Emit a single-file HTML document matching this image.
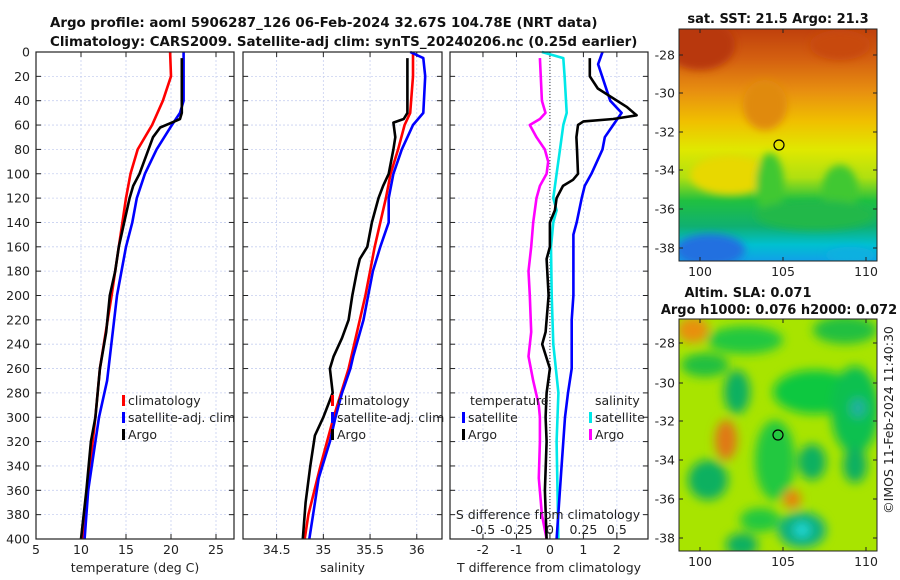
<!DOCTYPE html>
<html><head><meta charset="utf-8">
<style>
html,body{margin:0;padding:0;background:#fff;}
svg{display:block;font-family:"DejaVu Sans","Liberation Sans",sans-serif;}
.t{font-size:12.5px;fill:#222;}
.b{font-weight:bold;font-size:13px;fill:#111;}
.bt{font-weight:bold;font-size:13.4px;fill:#111;}
</style></head><body>
<svg id="fig" width="900" height="580" viewBox="0 0 900 580">
<defs>
<filter id="bl" x="-50%" y="-50%" width="200%" height="200%"><feGaussianBlur stdDeviation="5"/></filter>
<filter id="bl2" x="-50%" y="-50%" width="200%" height="200%"><feGaussianBlur stdDeviation="4"/></filter>
<clipPath id="c1"><rect x="679" y="29" width="198" height="232"/></clipPath>
<clipPath id="c2"><rect x="679" y="319" width="198" height="232"/></clipPath>
<linearGradient id="sst" x1="0" y1="0" x2="0" y2="1">
<stop offset="0" stop-color="#c0400c"/><stop offset="0.13" stop-color="#d46010"/>
<stop offset="0.27" stop-color="#e89010"/><stop offset="0.4" stop-color="#f0c000"/>
<stop offset="0.52" stop-color="#e0e800"/><stop offset="0.64" stop-color="#b0e010"/>
<stop offset="0.74" stop-color="#20c040"/><stop offset="0.85" stop-color="#10b070"/>
<stop offset="0.93" stop-color="#00c0d0"/><stop offset="1" stop-color="#10a0e8"/>
</linearGradient>
</defs>
<text class="bt" x="50" y="27">Argo profile: aoml 5906287_126 06-Feb-2024 32.67S 104.78E (NRT data)</text>
<text class="bt" x="50" y="46">Climatology: CARS2009. Satellite-adj clim: synTS_20240206.nc (0.25d earlier)</text>
<g id="plots"></g>

<g>
<text class="b" x="778" y="23" text-anchor="middle">sat. SST: 21.5 Argo: 21.3</text>
<g clip-path="url(#c1)">
<rect x="679" y="29" width="198" height="232" fill="url(#sst)"/>
<g filter="url(#bl2)">
<ellipse cx="700" cy="45" rx="35" ry="25" fill="#b8380c"/>
<ellipse cx="840" cy="45" rx="30" ry="15" fill="#c84a10"/>
<ellipse cx="765" cy="105" rx="22" ry="25" fill="#e08a10"/>
<ellipse cx="730" cy="175" rx="40" ry="20" fill="#e8d800"/>
<ellipse cx="770" cy="185" rx="14" ry="32" fill="#40c830"/>
<ellipse cx="840" cy="190" rx="18" ry="25" fill="#40c830"/>
<ellipse cx="815" cy="215" rx="60" ry="15" fill="#20b848"/>
<ellipse cx="710" cy="250" rx="35" ry="16" fill="#2070e0"/>
<ellipse cx="850" cy="255" rx="25" ry="8" fill="#10b0e0"/>
</g></g>
<rect x="679" y="29" width="198" height="232" fill="none" stroke="#222"/>
<circle cx="779" cy="145" r="5" fill="none" stroke="#000" stroke-width="1.2"/>
</g>

<g>
<text class="b" x="748" y="297" text-anchor="middle">Altim. SLA: 0.071</text>
<text class="b" x="779" y="314" text-anchor="middle">Argo h1000: 0.076 h2000: 0.072</text>
<g clip-path="url(#c2)">
<rect x="679" y="319" width="198" height="232" fill="#a8e400"/>
<g filter="url(#bl)">
<ellipse cx="693" cy="330" rx="16" ry="13" fill="#e89010"/>
<ellipse cx="745" cy="340" rx="38" ry="14" fill="#20c840"/>
<ellipse cx="845" cy="330" rx="32" ry="14" fill="#20c040"/>
<ellipse cx="705" cy="365" rx="24" ry="12" fill="#20c040"/>
<ellipse cx="737" cy="392" rx="13" ry="22" fill="#10b060"/>
<ellipse cx="815" cy="392" rx="42" ry="22" fill="#10c840"/>
<ellipse cx="855" cy="410" rx="24" ry="44" fill="#10c050"/>
<ellipse cx="858" cy="408" rx="8" ry="10" fill="#20b0a0"/>
<ellipse cx="726" cy="440" rx="11" ry="20" fill="#e07818"/>
<ellipse cx="775" cy="460" rx="20" ry="40" fill="#20c840"/>
<ellipse cx="708" cy="480" rx="20" ry="20" fill="#10b060"/>
<ellipse cx="812" cy="462" rx="14" ry="18" fill="#10b060"/>
<ellipse cx="855" cy="465" rx="12" ry="18" fill="#10b060"/>
<ellipse cx="792" cy="499" rx="9" ry="9" fill="#e88010"/>
<ellipse cx="802" cy="530" rx="24" ry="18" fill="#10b080"/>
<ellipse cx="802" cy="530" rx="8" ry="7" fill="#20d8d8"/>
<ellipse cx="742" cy="545" rx="16" ry="12" fill="#10b060"/>
<ellipse cx="760" cy="520" rx="20" ry="12" fill="#20c840"/>
</g></g>
<rect x="679" y="319" width="198" height="232" fill="none" stroke="#222"/>
<circle cx="778" cy="435" r="5" fill="none" stroke="#000" stroke-width="1.2"/>
</g>
<text class="t" transform="translate(893,420) rotate(-90)" text-anchor="middle">©IMOS 11-Feb-2024 11:40:30</text>
</svg>
<script>
const depthTicks=[0,20,40,60,80,100,120,140,160,180,200,220,240,260,280,300,320,340,360,380,400];
const tempTicks=[5,10,15,20,25];
const salTicks=[34.5,35,35.5,36];
const tdiffTicks=[-2,-1,0,1,2];
const sdiffTicks=[-0.5,-0.25,0,0.25,0.5];
const sdiffLabels=["-0.5","-0.25","0","0.25","0.5"];

const tClimDepth=[0,20,40,60,80,100,120,140,160,180,200,260,300,360,400];
const tClim=[19.9,20.0,19.1,17.9,16.3,15.5,15.0,14.6,14.2,13.8,13.4,12.1,11.6,10.7,10.2];
const tSatDepth=[0,40,50,60,80,100,120,140,160,180,200,270,300,320,360,400];
const tSat=[21.4,21.4,21.0,20.1,18.4,17.1,16.2,15.7,15.0,14.5,14.0,12.9,12.0,11.6,10.8,10.4];
const tArgoDepth=[5,50,55,58,62,70,80,100,110,120,140,160,180,200,230,260,300,320,360,400];
const tArgo=[21.2,21.2,21.0,20.1,18.8,18.0,17.5,16.5,15.8,15.4,14.8,14.2,13.8,13.2,12.8,12.1,11.6,11.1,10.6,10.0];

const sClimDepth=[0,20,50,60,80,100,120,140,160,180,200,220,260,300,340,380,400];
const sClim=[35.96,35.96,35.93,35.87,35.80,35.72,35.67,35.61,35.55,35.50,35.45,35.39,35.27,35.11,34.97,34.84,34.80];
const sSatDepth=[0,5,20,50,60,80,100,120,140,160,180,200,220,250,260,280,300,320,350,380,400];
const sSat=[35.93,36.07,36.09,36.07,35.96,35.84,35.75,35.70,35.70,35.61,35.53,35.48,35.43,35.32,35.29,35.20,35.13,35.07,34.95,34.89,34.85];
const sArgoDepth=[5,50,55,58,70,80,100,110,120,140,160,170,180,200,220,235,250,260,280,290,300,315,340,370,400];
const sArgo=[35.90,35.90,35.86,35.75,35.77,35.75,35.70,35.64,35.59,35.52,35.47,35.39,35.36,35.31,35.27,35.20,35.11,35.07,35.10,35.05,35.00,34.91,34.86,34.81,34.78];

const dTSatDepth=[0,10,40,50,60,70,80,100,110,120,140,150,200,220,260,280,300,340,400];
const dTSat=[1.57,1.44,1.80,2.14,1.89,1.64,1.57,1.24,1.04,0.95,0.80,0.70,0.70,0.65,0.65,0.54,0.45,0.35,0.20];
const dTArgoDepth=[5,20,30,45,52,55,57,60,70,80,100,105,110,120,130,140,160,170,200,230,240,260,280,300,320,360,400];
const dTArgo=[1.19,1.19,1.43,2.29,2.59,1.89,1.00,0.84,0.79,0.81,0.84,0.69,0.39,0.20,0.15,0.00,0.00,-0.10,-0.04,-0.13,-0.23,0.00,-0.10,-0.13,-0.10,-0.15,-0.10];
const dSSatDepth=[0,5,20,50,60,80,100,120,130,140,160,200,240,280,320,400];
const dSSat=[-0.06,0.10,0.11,0.125,0.10,0.075,0.05,0.025,0.05,0.025,0.008,0.013,0.025,0.063,0.05,0.063];
const dSArgoDepth=[5,40,50,55,60,70,80,90,100,110,120,140,160,180,200,230,250,270,290,300,320,350,380,400];
const dSArgo=[-0.075,-0.06,-0.033,-0.075,-0.15,-0.10,-0.038,-0.013,-0.025,-0.075,-0.10,-0.125,-0.14,-0.16,-0.15,-0.14,-0.16,-0.125,-0.083,-0.075,-0.075,-0.083,-0.06,-0.025];

const NS="http://www.w3.org/2000/svg";
const root=document.getElementById('plots');
const Y0=52,Y1=539;
function yS(d){return Y0+(d-0)/400*(Y1-Y0);}
function mk(tag,attrs,parent){const e=document.createElementNS(NS,tag);for(const k in attrs)e.setAttribute(k,attrs[k]);(parent||root).appendChild(e);return e;}
function txt(x,y,s,anchor,parent){const e=mk('text',{x:x,y:y,'class':'t','text-anchor':anchor||'middle'},parent);e.textContent=s;return e;}

const panels=[
 {x0:36,x1:234,lo:5,hi:27.0,ticks:tempTicks,labels:tempTicks.map(String),xl:'temperature (deg C)',name:'temperature-panel'},
 {x0:243,x1:442,lo:34.14,hi:36.27,ticks:salTicks,labels:salTicks.map(String),xl:'salinity',name:'salinity-panel'},
 {x0:450,x1:648,lo:-2.985,hi:2.93,ticks:tdiffTicks,labels:tdiffTicks.map(String),xl:'T difference from climatology',name:'difference-panel'}
];
panels.forEach((p,i)=>{
 p.xs=v=>p.x0+(v-p.lo)/(p.hi-p.lo)*(p.x1-p.x0);
 const g=mk('g',{});
 
 
 depthTicks.forEach(d=>{
  const l=mk('line',{x1:p.x0,x2:p.x1,y1:yS(d),y2:yS(d),stroke:'#c8d0f0','stroke-dasharray':'2,2','stroke-width':0.8},g);
  
  
  mk('line',{x1:p.x0,x2:p.x0+5,y1:yS(d),y2:yS(d),stroke:'#222'},g);
  mk('line',{x1:p.x1-5,x2:p.x1,y1:yS(d),y2:yS(d),stroke:'#222'},g);
 });
 p.ticks.forEach((t,k)=>{
  const x=p.xs(t);
  const l=mk('line',{x1:x,x2:x,y1:Y0,y2:Y1,stroke:'#c8d0f0','stroke-dasharray':'2,2','stroke-width':0.8},g);
  
  
  mk('line',{x1:x,x2:x,y1:Y1-5,y2:Y1,stroke:'#222'},g);
  mk('line',{x1:x,x2:x,y1:Y0,y2:Y0+5,stroke:'#222'},g);
  const tl=txt(x,554,p.labels[k],'middle',g);
  
  
 });
 const xt=txt((p.x0+p.x1)/2,572,p.xl,'middle',g);
 
 
});
depthTicks.forEach(d=>{
 const t=txt(30,yS(d)+4.5,String(d),'end');
 
 
});
const zl=mk('line',{x1:panels[2].xs(0),x2:panels[2].xs(0),y1:Y0,y2:Y1,stroke:'#333','stroke-dasharray':'1,2','stroke-width':1});



function series(p,vals,depths,col,name,fx){
 const pts=vals.map((v,k)=>p.xs(fx?fx(v):v).toFixed(1)+','+yS(depths[k]).toFixed(1)).join(' ');
 const e=mk('polyline',{points:pts,fill:'none',stroke:col,'stroke-width':2.6,'stroke-linejoin':'round'});
 
 
}
series(panels[0],tClim,tClimDepth,'#ff0000','temp-climatology-line');
series(panels[0],tSat,tSatDepth,'#0000ff','temp-satellite-line');
series(panels[0],tArgo,tArgoDepth,'#000','temp-argo-line');
series(panels[1],sClim,sClimDepth,'#ff0000','sal-climatology-line');
series(panels[1],sSat,sSatDepth,'#0000ff','sal-satellite-line');
series(panels[1],sArgo,sArgoDepth,'#000','sal-argo-line');
const s2t=v=>v*4;
series(panels[2],dSSat,dSSatDepth,'#00e8e8','sdiff-satellite-line',s2t);
series(panels[2],dSArgo,dSArgoDepth,'#ff00ff','sdiff-argo-line',s2t);
series(panels[2],dTSat,dTSatDepth,'#0000ff','tdiff-satellite-line');
series(panels[2],dTArgo,dTArgoDepth,'#000','tdiff-argo-line');

const st=txt(548,519,'S difference from climatology','middle');


sdiffTicks.forEach((s,k)=>{
 const t=txt(panels[2].xs(s*4),534,sdiffLabels[k],'middle');
 
 
});

panels.forEach(p=>{
 const r=mk('rect',{x:p.x0,y:Y0,width:p.x1-p.x0,height:Y1-Y0,fill:'none',stroke:'#222','stroke-width':1.2});
 
 
});

function legend(x,y,col,label,name){
 const g=mk('g',{});
 
 
 mk('rect',{x:x,y:y-10,width:3,height:11,fill:col},g);
 txt(x+6,y,label,'start',g);
}
legend(122,405,'#ff0000','climatology','legend-climatology');
legend(122,422,'#0000ff','satellite-adj. clim','legend-satellite');
legend(122,439,'#000','Argo','legend-argo');
legend(331,405,'#ff0000','climatology','legend-sal-climatology');
legend(331,422,'#0000ff','satellite-adj. clim','legend-sal-satellite');
legend(331,439,'#000','Argo','legend-sal-argo');
const th=txt(470,405,'temperature','start');


legend(462,422,'#0000ff','satellite','legend-tdiff-satellite');
legend(462,439,'#000','Argo','legend-tdiff-argo');
const sh=txt(595,405,'salinity','start');


legend(589,422,'#00e8e8','satellite','legend-sdiff-satellite');
legend(589,439,'#ff00ff','Argo','legend-sdiff-argo');

const fig=document.getElementById('fig');
const lonV=[100,105,110];
const lonX=[700,783,866];
const latV=[-28,-30,-32,-34,-36,-38];
const latTop=[55,93,132,170,209,248];
const latBot=[343,383,421,460,499,538];
function mapAxes(yTop,yBot,latY,name){
 const g=mk('g',{},fig);
 
 
 lonV.forEach((v,k)=>{
  mk('line',{x1:lonX[k],x2:lonX[k],y1:yBot-4,y2:yBot,stroke:'#222'},g);
  mk('line',{x1:lonX[k],x2:lonX[k],y1:yTop,y2:yTop+4,stroke:'#222'},g);
  txt(lonX[k],yBot+15,String(v),'middle',g);
 });
 latV.forEach((v,k)=>{
  mk('line',{x1:679,x2:683,y1:latY[k],y2:latY[k],stroke:'#222'},g);
  mk('line',{x1:873,x2:877,y1:latY[k],y2:latY[k],stroke:'#222'},g);
  txt(675,latY[k]+4.5,String(v),'end',g);
 });
}
mapAxes(29,261,latTop,'sst-map-axes');
mapAxes(319,551,latBot,'sla-map-axes');
</script>
</body></html>
